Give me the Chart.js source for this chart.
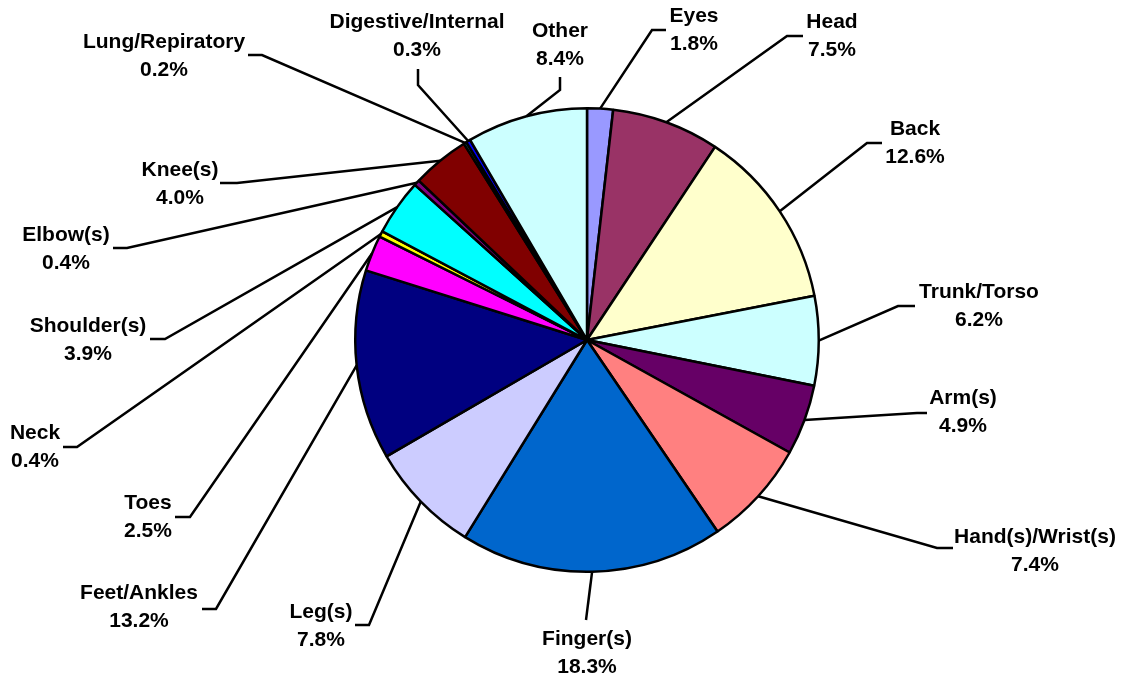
<!DOCTYPE html>
<html>
<head>
<meta charset="utf-8">
<title>Injuries by body part</title>
<script src="https://cdn.jsdelivr.net/npm/chart.js@4/dist/chart.umd.min.js"></script>
<style>
    html, body { margin: 0; padding: 0; background: #fff; }
    #wrap { width: 1125px; height: 679px; position: relative; }
</style>
</head>
<body>
<div id="wrap"><canvas id="grafico"></canvas></div>
<script>
// --- DATA ---
const categorias = ['Eyes', 'Head', 'Back', 'Trunk/Torso', 'Arm(s)', 'Hand(s)/Wrist(s)', 'Finger(s)',
    'Leg(s)', 'Feet/Ankles', 'Toes', 'Neck', 'Shoulder(s)', 'Elbow(s)', 'Knee(s)',
    'Lung/Repiratory', 'Digestive/Internal', 'Other'];
const percentagens = [1.8, 7.5, 12.6, 6.2, 4.9, 7.4, 18.3, 7.8, 13.2, 2.5, 0.4, 3.9, 0.4, 4.0, 0.2, 0.3, 8.4];

// colours of each slice (old Excel palette)
const cores = ['#9999FF', '#993366', '#FFFFCC', '#CCFFFF', '#660066', '#FF8080', '#0066CC',
    '#CCCCFF', '#000080', '#FF00FF', '#FFFF00', '#00FFFF', '#800080', '#800000',
    '#008080', '#0000FF', '#CCFFFF'];

// --- LABEL LAYOUT: text centre and leader line elbow / end (x, y) ---
const posTexto = [[694, 16], [832, 22], [915, 129], [979, 292], [963, 398], [1035, 537], [587, 639],
    [321, 612], [139, 593], [148, 503], [35, 433], [88, 326], [66, 235], [180, 170],
    [164, 42], [417, 22], [560, 31]];
const cotovelo = [[652, 30], [787, 36], [867, 143], [898, 306], [917, 413], [937, 548], [586, 620],
    [369, 625], [216, 609], [190, 517], [77, 447], [165, 339], [127, 248], [237, 183],
    [262, 55], [418, 85], [560, 90]];
const fimLinha = [[666, 30], [803, 36], [882, 143], [915, 306], [927, 413], [953, 548], [586, 620],
    [355, 625], [202, 609], [175, 517], [63, 447], [150, 339], [113, 248], [220, 183],
    [248, 55], [418, 69], [560, 77]];

const FONTE = 'bold 21px Arial, "Liberation Sans", sans-serif';
const ALTURA_LINHA = 28;

// desenha as etiquetas com linhas de chamada
const etiquetasPlugin = {
    id: 'etiquetas',
    afterDatasetsDraw(chart) {
        const ctx = chart.ctx;
        const arcos = chart.getDatasetMeta(0).data;
        ctx.save();
        ctx.strokeStyle = '#000';
        ctx.lineWidth = 2.5;
        ctx.lineJoin = 'miter';
        arcos.forEach((arco, i) => {
            const p = arco.getProps(['x', 'y', 'startAngle', 'endAngle', 'outerRadius'], true);
            const meio = (p.startAngle + p.endAngle) / 2;
            const ax = p.x + Math.cos(meio) * p.outerRadius;
            const ay = p.y + Math.sin(meio) * p.outerRadius;
            ctx.beginPath();
            ctx.moveTo(ax, ay);
            ctx.lineTo(cotovelo[i][0], cotovelo[i][1]);
            ctx.lineTo(fimLinha[i][0], fimLinha[i][1]);
            ctx.stroke();
        });
        ctx.fillStyle = '#000';
        ctx.font = FONTE;
        ctx.textAlign = 'center';
        ctx.textBaseline = 'middle';
        categorias.forEach((nome, i) => {
            const [tx, ty] = posTexto[i];
            ctx.fillText(nome, tx, ty);
            ctx.fillText(percentagens[i].toFixed(1) + '%', tx, ty + ALTURA_LINHA);
        });
        ctx.restore();
    }
};

const ctx = document.getElementById('grafico').getContext('2d');
new Chart(ctx, {
    type: 'pie',
    data: {
        labels: categorias,
        datasets: [{
            data: percentagens,
            backgroundColor: cores,
            borderColor: '#000',
            borderWidth: 2.5
        }]
    },
    options: {
        responsive: true,
        maintainAspectRatio: false,
        animation: false,
        layout: { padding: { left: 354, right: 305, top: 107, bottom: 106 } },
        plugins: {
            legend: { display: false },
            tooltip: { enabled: false }
        }
    },
    plugins: [etiquetasPlugin]
});
</script>
</body>
</html>
